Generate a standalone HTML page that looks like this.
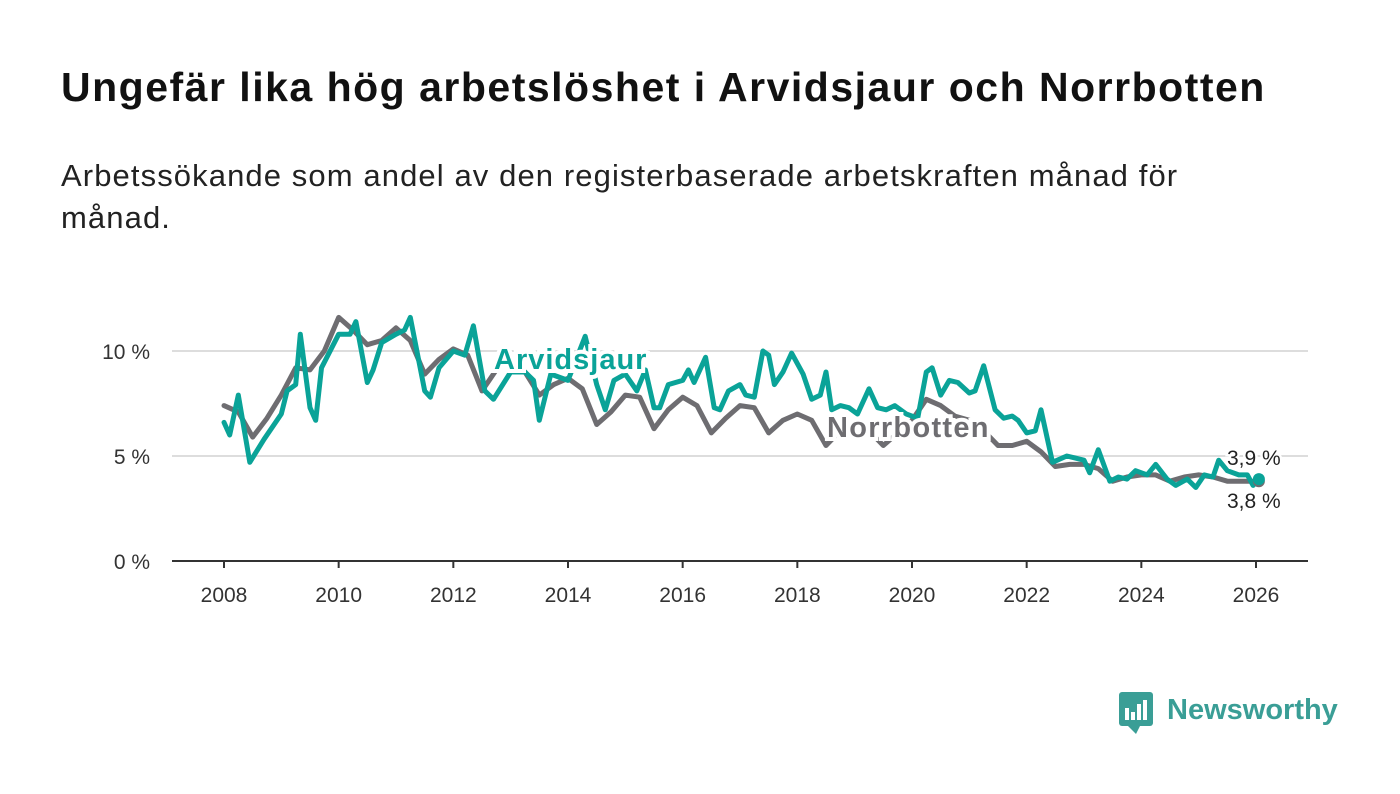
<!DOCTYPE html>
<html><head><meta charset="utf-8"><style>
body{margin:0;background:#fff;width:1400px;height:794px;overflow:hidden;font-family:"Liberation Sans",sans-serif}
h1{position:absolute;left:61px;top:64px;margin:0;font-size:41px;letter-spacing:1.5px;font-weight:bold;color:#111;white-space:nowrap}
p{position:absolute;left:61px;top:155px;margin:0;font-size:31px;letter-spacing:1.1px;line-height:42px;color:#222;width:1175px}
svg{position:absolute;left:0;top:0}
</style></head><body>
<h1>Ungefär lika hög arbetslöshet i Arvidsjaur och Norrbotten</h1>
<p>Arbetssökande som andel av den registerbaserade arbetskraften månad för månad.</p>
<svg id="c" width="1400" height="794"></svg>
<script>
const yTicks=[0,5,10];
const xTicks=[2008,2010,2012,2014,2016,2018,2020,2022,2024,2026];
const norrT=[2008,2008.25,2008.5,2008.75,2009,2009.25,2009.5,2009.75,2010,2010.25,2010.5,2010.75,2011,2011.25,2011.5,2011.75,2012,2012.25,2012.5,2012.75,2013,2013.25,2013.5,2013.75,2014,2014.25,2014.5,2014.75,2015,2015.25,2015.5,2015.75,2016,2016.25,2016.5,2016.75,2017,2017.25,2017.5,2017.75,2018,2018.25,2018.5,2018.75,2019,2019.25,2019.5,2019.75,2020,2020.25,2020.5,2020.75,2021,2021.25,2021.5,2021.75,2022,2022.25,2022.5,2022.75,2023,2023.25,2023.5,2023.75,2024,2024.25,2024.5,2024.75,2025,2025.25,2025.5,2025.75,2026.05];
const norrV=[7.4,7.1,5.9,6.8,7.9,9.2,9.1,10.0,11.6,11.0,10.3,10.5,11.1,10.5,8.9,9.6,10.1,9.8,8.1,9.1,9.6,9.0,7.9,8.4,8.7,8.2,6.5,7.1,7.9,7.8,6.3,7.2,7.8,7.4,6.1,6.8,7.4,7.3,6.1,6.7,7.0,6.7,5.5,6.2,6.5,6.2,5.5,6.1,6.7,7.7,7.4,6.9,6.7,6.2,5.5,5.5,5.7,5.2,4.5,4.6,4.6,4.4,3.8,4.0,4.1,4.1,3.8,4.0,4.1,4.0,3.8,3.8,3.8];
const arvT=[2008,2008.1,2008.25,2008.45,2008.7,2009,2009.1,2009.25,2009.33,2009.5,2009.6,2009.7,2010,2010.2,2010.3,2010.5,2010.6,2010.75,2011,2011.15,2011.25,2011.5,2011.6,2011.75,2012,2012.2,2012.35,2012.55,2012.7,2013,2013.25,2013.4,2013.5,2013.7,2014,2014.3,2014.5,2014.65,2014.8,2015,2015.2,2015.35,2015.5,2015.6,2015.75,2016,2016.1,2016.2,2016.4,2016.55,2016.65,2016.8,2017,2017.1,2017.25,2017.4,2017.5,2017.6,2017.75,2017.9,2018.1,2018.25,2018.4,2018.5,2018.6,2018.75,2018.9,2019.05,2019.25,2019.4,2019.55,2019.7,2019.9,2020.1,2020.25,2020.35,2020.5,2020.65,2020.8,2021,2021.1,2021.25,2021.45,2021.6,2021.75,2021.85,2022,2022.15,2022.25,2022.45,2022.7,2022.85,2023,2023.1,2023.25,2023.45,2023.6,2023.75,2023.9,2024.1,2024.25,2024.45,2024.6,2024.8,2024.95,2025.1,2025.25,2025.35,2025.5,2025.7,2025.85,2025.95,2026.05];
const arvV=[6.6,6.0,7.9,4.7,5.8,7.0,8.1,8.4,10.8,7.3,6.7,9.2,10.8,10.8,11.4,8.5,9.1,10.4,10.8,11.0,11.6,8.1,7.8,9.2,10.0,9.8,11.2,8.1,7.7,9.0,9.0,8.6,6.7,8.9,8.6,10.7,8.4,7.2,8.6,8.9,8.1,9.1,7.3,7.3,8.4,8.6,9.1,8.5,9.7,7.3,7.2,8.1,8.4,7.9,7.8,10.0,9.8,8.4,9.0,9.9,8.9,7.7,7.9,9.0,7.2,7.4,7.3,7.0,8.2,7.3,7.2,7.4,7.0,6.8,9.0,9.2,7.9,8.6,8.5,8.0,8.1,9.3,7.2,6.8,6.9,6.7,6.1,6.2,7.2,4.7,5.0,4.9,4.8,4.2,5.3,3.8,4.0,3.9,4.3,4.1,4.6,3.9,3.6,3.9,3.5,4.1,4.0,4.8,4.3,4.1,4.1,3.6,3.9];
const NS='http://www.w3.org/2000/svg',svg=document.getElementById('c');
const X=t=>224+(t-2008)*(1256-224)/18, Y=v=>561-v*21;
function el(tag,a,txt){const e=document.createElementNS(NS,tag);for(const k in a)e.setAttribute(k,a[k]);if(txt!=null)e.textContent=txt;svg.appendChild(e);return e;}
yTicks.forEach(v=>{
 if(v>0){const g=el('line',{x1:172,x2:1308,y1:Y(v),y2:Y(v),stroke:'#ddd','stroke-width':2});
 
 }
 const t=el('text',{x:150,y:Y(v)+8,'text-anchor':'end','font-size':21,fill:'#333'},v+' %');
 
 
});
const ax=el('line',{x1:172,x2:1308,y1:561,y2:561,stroke:'#333','stroke-width':2});


xTicks.forEach(y=>{
 const tk=el('line',{x1:X(y),x2:X(y),y1:561,y2:568,stroke:'#333','stroke-width':2});
 
 
 const t=el('text',{x:X(y),y:602,'text-anchor':'middle','font-size':21,fill:'#333'},y);
 
 
});
function line(T,V,col,name){const d=T.map((t,i)=>(i?'L':'M')+X(t).toFixed(1)+','+Y(V[i]).toFixed(1)).join('');
 const p=el('path',{d:d,fill:'none',stroke:col,'stroke-width':5,'stroke-linejoin':'round','stroke-linecap':'round'});
 
 }
line(norrT,norrV,'#6e6d71','norrbotten-line');
line(arvT,arvV,'#0aa398','arvidsjaur-line');
const d1=el('circle',{cx:X(norrT[norrT.length-1]),cy:Y(norrV[norrV.length-1]),r:6,fill:'#6e6d71'});


const d2=el('circle',{cx:X(arvT[arvT.length-1]),cy:Y(arvV[arvV.length-1]),r:6,fill:'#0aa398'});


const l1=el('text',{x:494,y:369,'font-size':29,'letter-spacing':1,'font-weight':'bold',fill:'#0aa398',stroke:'#fff','stroke-width':8,'paint-order':'stroke'},'Arvidsjaur');


const l2=el('text',{x:827,y:437,'font-size':29,'letter-spacing':1.3,'font-weight':'bold',fill:'#6e6d71',stroke:'#fff','stroke-width':8,'paint-order':'stroke'},'Norrbotten');


const v1=el('text',{x:1227,y:465,'font-size':21,fill:'#222',stroke:'#fff','stroke-width':5,'paint-order':'stroke'},'3,9 %');


const v2=el('text',{x:1227,y:508,'font-size':21,fill:'#222',stroke:'#fff','stroke-width':5,'paint-order':'stroke'},'3,8 %');


</script>
<svg width="1400" height="794">
<rect x="1119" y="692" width="34" height="34" rx="3" fill="#3a9e96"/>
<path d="M1128 726 L1136 734 L1140 726Z" fill="#3a9e96"/>
<rect x="1125" y="708" width="4" height="12" fill="#fff"/><rect x="1131" y="712" width="4" height="8" fill="#fff"/><rect x="1137" y="704" width="4" height="16" fill="#fff"/><rect x="1143" y="700" width="4" height="20" fill="#fff"/>
<text x="1167" y="719" font-size="29" font-weight="bold" fill="#3a9e96" font-family="Liberation Sans, sans-serif">Newsworthy</text>
</svg>
</body></html>
